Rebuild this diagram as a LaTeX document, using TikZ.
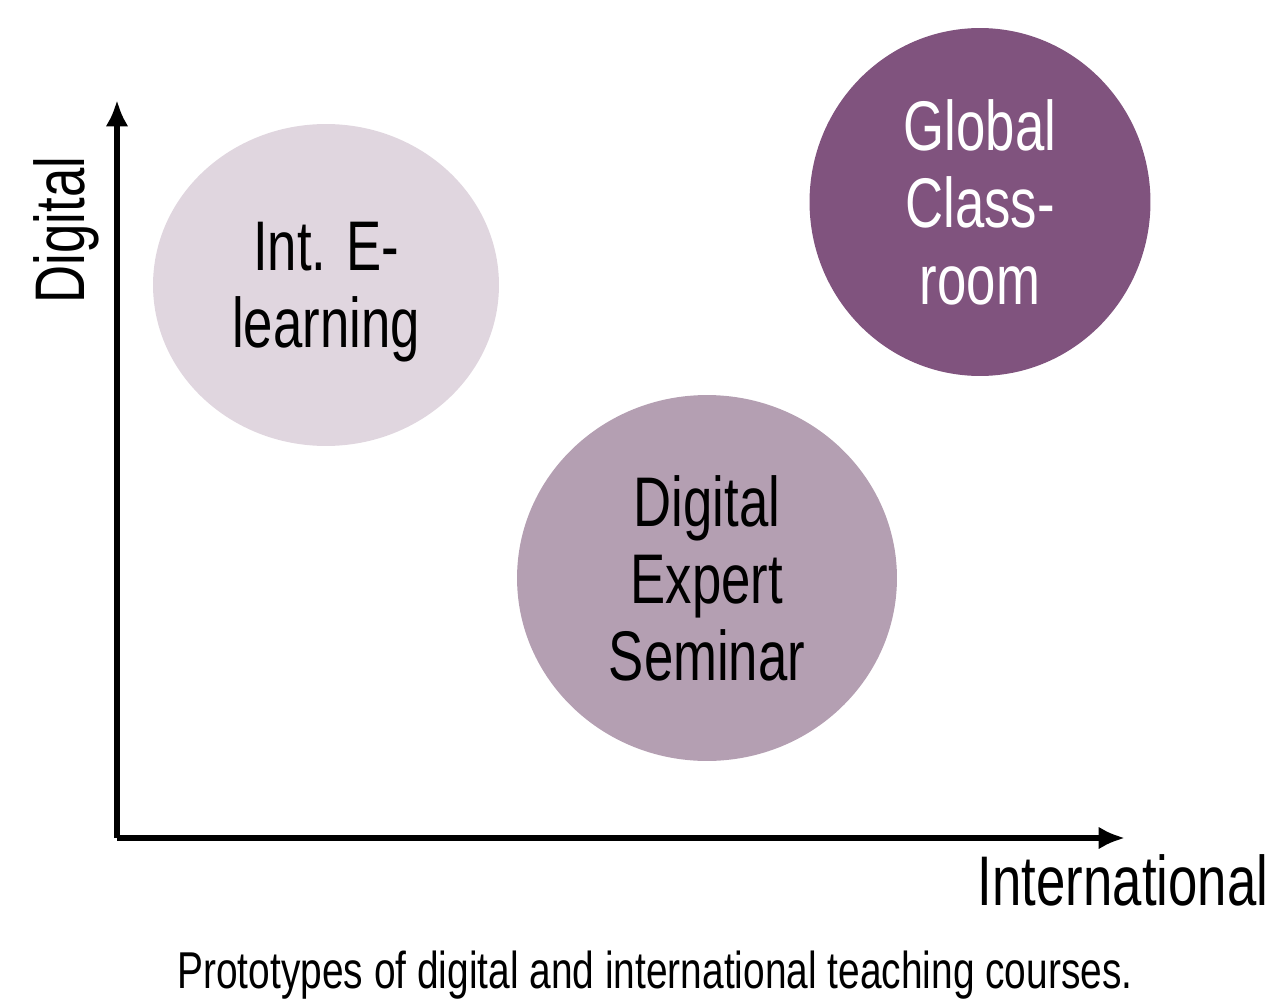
\documentclass[tikz,border=0pt]{standalone}
\usepackage{fontspec}
\setmainfont{Liberation Sans}[FakeStretch=0.75]
\usetikzlibrary{shapes.geometric}
\usetikzlibrary{arrows.meta}
\definecolor{bubble_light}{HTML}{E0D6DF}
\definecolor{bubble_mid}{HTML}{B49FB2}
\definecolor{bubble_dark}{HTML}{80537E}

\begin{document}
\begin{tikzpicture}[x=0.02cm,y=-0.02cm,
	axis/.style={line width=0.11cm,-{Latex[length=15pt,width=13pt]}},
	bubble/.style={ellipse,draw=none,align=center,outer sep=0pt,text depth=0pt,font=\fontsize{40}{44}\selectfont},
	axis_txt/.style={font=\fontsize{40}{44}\selectfont}]
	\useasboundingbox (0,0) rectangle (1271,1007);

	\coordinate (origin) at (117,838);
	\coordinate (digital_end) at (117,100);
	\coordinate (intl_end) at (1125,838);

	\draw[axis] (origin) -- (digital_end);
	\draw[axis] (origin) -- (intl_end);

	\node [axis_txt,rotate=90] at (66,230) (digital_txt) {Digital};
	\node [axis_txt] at (1123,880) (intl_txt) {International};

	\node [bubble,fill=bubble_light,minimum width=6.92cm,minimum height=6.44cm] at (326,285) (elearning) {Int. E-\\learning};
	\node [bubble,fill=bubble_dark,text=white,minimum width=6.82cm,minimum height=6.96cm] at (980,202) (classroom) {Global\\Class-\\room};
	\node [bubble,fill=bubble_mid,minimum width=7.6cm,minimum height=7.32cm] at (707,578) (seminar) {Digital\\Expert\\Seminar};

	\node [font=\fontsize{29.5}{32}\selectfont] at (655,975) (caption) {Prototypes of digital and international teaching courses.};
\end{tikzpicture}
\end{document}
